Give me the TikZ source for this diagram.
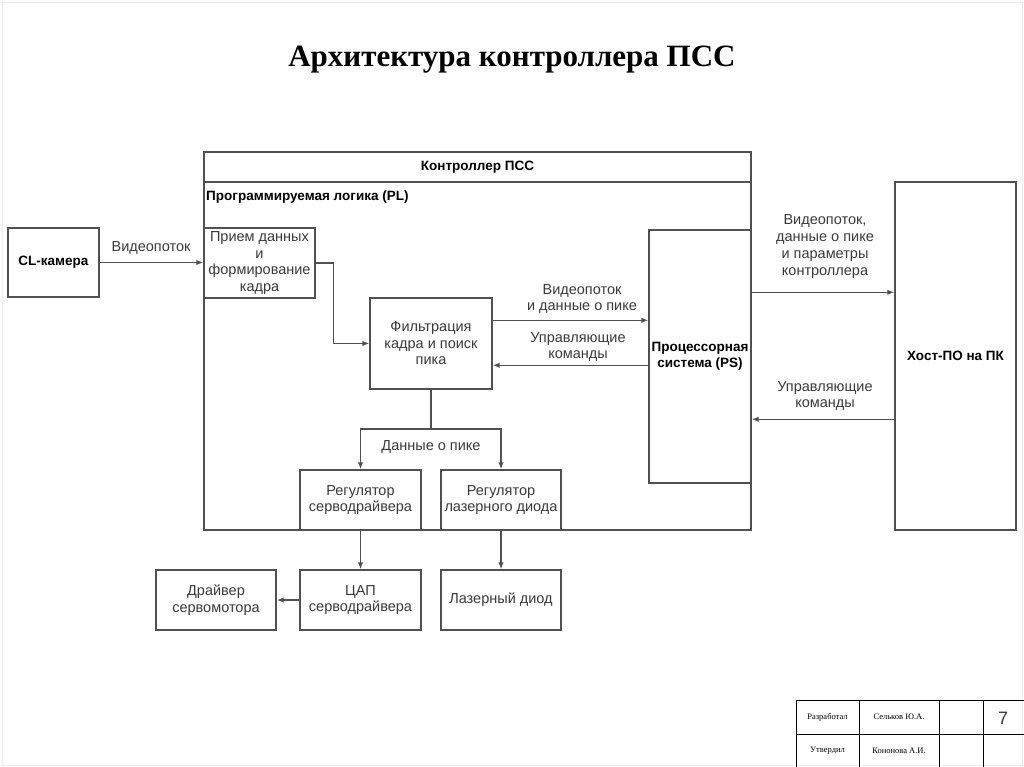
\documentclass[tikz,border=0pt]{standalone}
\usepackage{fontspec}
\setmainfont{Liberation Sans}
\newfontfamily\titlefont{Liberation Serif}
\usetikzlibrary{arrows.meta,calc}
\definecolor{txt}{HTML}{3A3A3A}
\definecolor{ln}{HTML}{505050}
\tikzset{
  box/.style={draw=ln, line width=1.4pt, fill=white, inner sep=0pt, align=center, text=txt,
    font=\fontsize{14.5}{16.5}\selectfont},
  bbox/.style={box, text=black, font=\fontsize{13.5}{16.5}\selectfont\bfseries},
  lbl/.style={align=center, text=txt, inner sep=0pt, font=\fontsize{14.5}{16.5}\selectfont},
  conn/.style={draw=ln, line width=1.4pt},
  arr/.style={conn, -{Latex[length=7pt,width=5.5pt]}},
  stamp/.style={draw=black, line width=0.8pt},
  stxt/.style={inner sep=0pt, font=\titlefont\fontsize{8.5}{10}\selectfont}
}
\begin{document}
\begin{tikzpicture}[x=1pt,y=-1pt]
\useasboundingbox (0,0) rectangle (1024,767);
\draw[gray!15, line width=0.8pt] (2,2) rectangle (1022,765);
% title
\node[inner sep=0pt, font=\titlefont\bfseries\fontsize{31}{34}\selectfont] (title) at (512,60) {Архитектура контроллера ПСС};
% controller outer box
\node[box, minimum width=547, minimum height=378] (ctrl) at (477.5,341) {};
\node[bbox, minimum width=547, minimum height=30] (ctrlh) at (477.5,167) {Контроллер ПСС};
\node[anchor=west, inner sep=0pt, font=\fontsize{13.5}{16}\selectfont\bfseries] (pl) at (206,197) {Программируемая логика (PL)};
% boxes
\node[bbox, minimum width=91, minimum height=69] (cam) at (53.5,262.5) {CL-камера};
\node[box, minimum width=111, minimum height=70] (recv) at (259.5,263) {Прием данных\\и\\формирование\\кадра};
\node[box, minimum width=122, minimum height=91] (filt) at (431,343.5) {Фильтрация\\кадра и поиск\\пика};
\node[bbox, minimum width=102, minimum height=253] (ps) at (700,356.5) {Процессорная\\система (PS)};
\node[bbox, minimum width=121, minimum height=348] (host) at (955.5,356) {Хост-ПО на ПК};
\node[box, minimum width=121, minimum height=60] (rsrv) at (360.5,500) {Регулятор\\серводрайвера};
\node[box, minimum width=120, minimum height=60] (rlas) at (501,500) {Регулятор\\лазерного диода};
\node[box, minimum width=121, minimum height=60] (dac) at (360.5,600) {ЦАП\\серводрайвера};
\node[box, minimum width=120, minimum height=60] (las) at (501,600) {Лазерный диод};
\node[box, minimum width=120, minimum height=60] (drv) at (216,600) {Драйвер\\сервомотора};
% connectors
\draw[arr] (cam.east) -- (cam.east -| recv.west);
\node[lbl] (l1) at (151,248) {Видеопоток};
\draw[arr] (recv.east) -| ($(filt.west)+(-36,0)$) -- (filt.west);
\draw[arr] ($(filt.north east)+(0,23)$) -- ($(filt.north east -| ps.west)+(0,23)$);
\node[lbl] (l2) at (582,299) {Видеопоток\\и данные о пике};
\draw[arr] ($(filt.north west -| ps.west)+(0,68)$) -- ($(filt.north east)+(0,68)$);
\node[lbl] (l3) at (578,347) {Управляющие\\команды};
\draw[arr] ($(ps.north east)+(0,63)$) -- ($(ps.north east -| host.west)+(0,63)$);
\node[lbl, font=\fontsize{14.5}{17}\selectfont] (l4) at (825,247) {Видеопоток,\\данные о пике\\и параметры\\контроллера};
\draw[arr] ($(ps.north east -| host.west)+(0,190)$) -- ($(ps.north east)+(0,190)$);
\node[lbl] (l5) at (825,396) {Управляющие\\команды};
\coordinate (split) at (431,429);
\draw[conn] (filt.south) -- (split);
\draw[arr] (split) -| (rsrv.north);
\draw[arr] (split) -| (rlas.north);
\node[lbl] (l6) at (431,447) {Данные о пике};
\draw[arr] (rsrv.south) -- (dac.north);
\draw[arr] (rlas.south) -- (las.north);
\draw[arr] (dac.west) -- (drv.east);
% stamp
\draw[stamp] (796,700) -- (1024,700);
\draw[stamp] (796,734) -- (1024,734);
\foreach \xx in {796,859,939,983} \draw[stamp] (\xx,700) -- (\xx,767);
\node[stxt] (s1) at (827.5,717) {Разработал};
\node[stxt] (s2) at (899,717) {Сельков Ю.А.};
\node[stxt] (s3) at (827.5,751) {Утвердил};
\node[stxt] (s4) at (899,751) {Кононова А.И.};
\node[inner sep=0pt, text=txt, font=\fontsize{18}{20}\selectfont] (pg) at (1003,718) {7};
\end{tikzpicture}
\end{document}
